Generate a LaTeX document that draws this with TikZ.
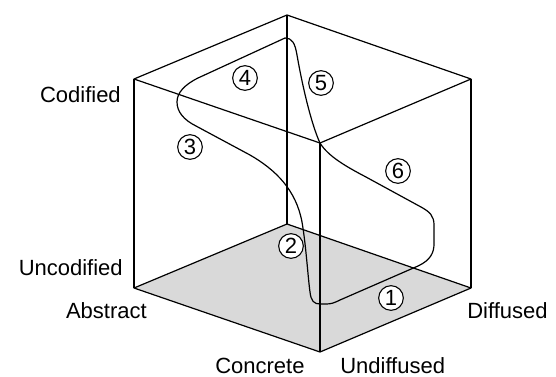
\documentclass[tikz,border=0pt]{standalone}
\usepackage{fontspec}
\setmainfont{Liberation Sans}
\usetikzlibrary{positioning}

\begin{document}
\begin{tikzpicture}[
        x=0.75pt, y=-0.75pt,
        font=\fontsize{16.5}{19}\selectfont,
        edge/.style={draw=black, line width=0.9pt, line join=round},
        face/.style={fill=black!15},
        route/.style={draw=black, line width=0.9pt, line join=round},
        stage/.style={draw=black, fill=white, circle, line width=0.8pt,
                      inner sep=0pt, minimum size=18.5pt},
        axlabel/.style={inner sep=0pt}
    ]
    \useasboundingbox (0,0) rectangle (556,376);

    % ---- Cube corners ----
    \coordinate (tb) at (287,15);
    \coordinate (tl) at (134,79);
    \coordinate (tr) at (471,79);
    \coordinate (tf) at (320,143);
    \coordinate (bb) at (287,224);
    \coordinate (bl) at (134,288);
    \coordinate (br) at (471,288);
    \coordinate (bf) at (320,352);

    % ---- Bottom face and edges ----
    \fill[face] (bl) -- (bf) -- (br) -- (bb) -- cycle;
    \draw[edge] (tl) -- (tb) -- (tr) -- (tf) -- cycle;
    \draw[edge] (bl) -- (bb) -- (br) -- (bf) -- cycle;
    \foreach \v in {l,b,r,f}
        \draw[edge] (t\v) -- (b\v);

    % ---- Social learning cycle ----
    \draw[route] (326,304)
        .. controls (331,304) and (334,303) .. (340,300)
        -- (418,266)
        .. controls (431,260) and (434,252) .. (434,244)
        -- (434,225)
        .. controls (434,216) and (430,212) .. (421,207)
        -- (366,177)
        .. controls (345,166) and (328,156) .. (tf)
        .. controls (313,128) and (304,95) .. (297,55)
        .. controls (295,43) and (292,38) .. (285,38)
        -- (198,78)
        .. controls (184,85) and (177,93) .. (177,102)
        .. controls (177,112) and (184,120) .. (196,126)
        -- (250,155)
        .. controls (276,170) and (296,190) .. (302,222)
        .. controls (306,245) and (308,278) .. (310,292)
        .. controls (311,301) and (314,304) .. (320,304)
        -- cycle;

    % ---- Stages ----
    \node[stage] (s1) at (391,298) {1};
    \node[stage] (s2) at (291,246) {2};
    \node[stage] (s3) at (190,147) {3};
    \node[stage] (s4) at (245,78) {4};
    \node[stage] (s5) at (321,83) {5};
    \node[stage] (s6) at (398,171) {6};

    % ---- Axis labels ----
    \node[axlabel, anchor=base east] (codified) at (121,102) {Codified};
    \node[axlabel, anchor=base east] (uncodified) at (123,275) {Uncodified};
    \node[axlabel, anchor=base east] (abstract) at (147,318) {Abstract};
    \node[axlabel, anchor=base west] (concrete) at (215,373) {Concrete};
    \node[axlabel, anchor=base west] (undiffused) at (340,373) {Undiffused};
    \node[axlabel, anchor=base west] (diffused) at (467,318) {Diffused};
\end{tikzpicture}
\end{document}
